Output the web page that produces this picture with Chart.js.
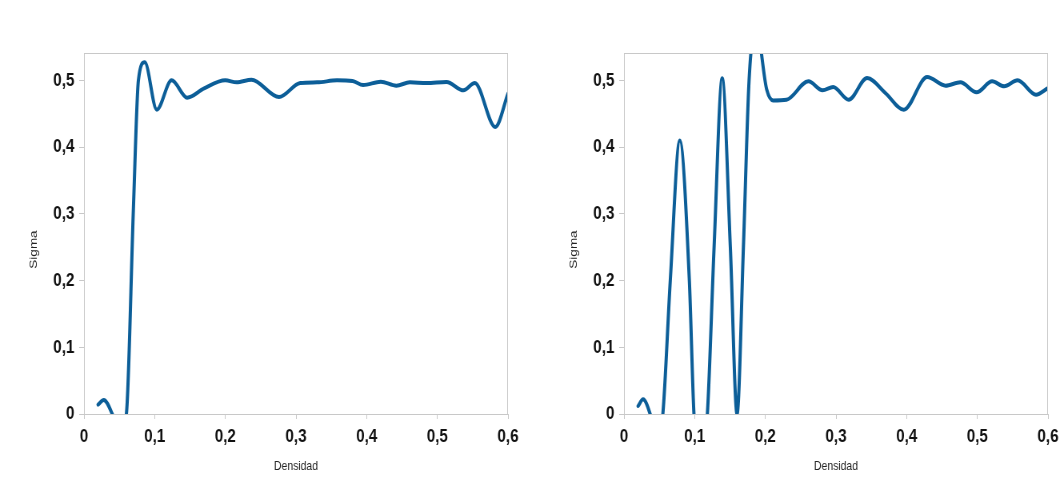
<!DOCTYPE html>
<html lang="es">
<head>
<meta charset="utf-8">
<title>Sigma frente a densidad</title>
<script src="https://cdn.jsdelivr.net/npm/chart.js@4.4.1/dist/chart.umd.min.js"></script>
<style>
    html, body { margin: 0; padding: 0; background: #ffffff; }
    #wrap { position: relative; width: 1060px; height: 485px; overflow: hidden; }
    /* the panels are drawn wide and squeezed horizontally, like the exported figure */
    canvas { position: absolute; top: 0; transform: scaleX(0.8); transform-origin: 0 0; }
    #chartLeft { left: 0; }
    #chartRight { left: 540px; }
</style>
</head>
<body>
<div id="wrap">
    <canvas id="chartLeft" width="650" height="485"></canvas>
    <canvas id="chartRight" width="650" height="485"></canvas>
</div>
<script>
// Data: left run
const densidadIzq = [0.02, 0.028, 0.04, 0.05, 0.06, 0.07, 0.077, 0.086, 0.103, 0.124, 0.146, 0.17, 0.2, 0.216, 0.237, 0.276, 0.306, 0.33, 0.358, 0.38, 0.395, 0.42, 0.442, 0.461, 0.485, 0.513, 0.537, 0.553, 0.582, 0.6];
const sigmaIzq = [0.014, 0.021, 0.0, -0.03, 0.0, 0.31, 0.5, 0.527, 0.456, 0.5, 0.474, 0.488, 0.5, 0.497, 0.501, 0.475, 0.496, 0.497, 0.5, 0.499, 0.493, 0.498, 0.492, 0.497, 0.496, 0.4975, 0.485, 0.496, 0.43, 0.48];

// Data: right run
const densidadDer = [0.02, 0.027, 0.037, 0.046, 0.055, 0.0655, 0.079, 0.0925, 0.099, 0.108, 0.118, 0.1275, 0.139, 0.1505, 0.16, 0.169, 0.177, 0.187, 0.202, 0.211, 0.23, 0.261, 0.281, 0.296, 0.318, 0.344, 0.37, 0.396, 0.429, 0.455, 0.476, 0.499, 0.521, 0.538, 0.557, 0.583, 0.6];
const sigmaDer = [0.012, 0.022, 0.0, -0.04, 0.0, 0.2, 0.41, 0.2, 0.0, -0.08, 0.0, 0.25, 0.503, 0.25, 0.0, 0.25, 0.5, 0.58, 0.486, 0.47, 0.471, 0.4985, 0.485, 0.49, 0.471, 0.5035, 0.481, 0.456, 0.505, 0.492, 0.497, 0.482, 0.4985, 0.491, 0.5, 0.4785, 0.4885];

// Axis ticks and titles
const xTicks = [0, 0.1, 0.2, 0.3, 0.4, 0.5, 0.6];
const yTicks = [0, 0.1, 0.2, 0.3, 0.4, 0.5];
const xTitle = 'Densidad';
const yTitle = 'Sigma';

// Styles (canvas units, before the 0.8 horizontal squeeze)
const LINE_COLOR = '#0c5e98';
const FRAME_COLOR = '#c8c8c8';
const SANS = "'Liberation Sans', Arial, sans-serif";

// Helpers
function commaLabel(value) {
    if (value === 0) return '0';
    return value.toFixed(1).replace('.', ',');
}

function toPoints(xs, ys) {
    return xs.map((x, i) => ({ x: x, y: ys[i] }));
}

// Frame around the plot area plus the two axis titles
const framePlugin = {
    id: 'frameAndTitles',
    afterDraw(chart) {
        const { ctx, chartArea } = chart;
        ctx.save();
        ctx.strokeStyle = FRAME_COLOR;
        ctx.lineWidth = 1;
        ctx.strokeRect(chartArea.left + 0.5, chartArea.top + 0.5,
            chartArea.right - chartArea.left - 1, chartArea.bottom - chartArea.top);

        ctx.fillStyle = '#222222';
        ctx.textAlign = 'center';
        ctx.textBaseline = 'middle';
        ctx.font = '13px ' + SANS;
        ctx.fillText(xTitle, (chartArea.left + chartArea.right) / 2, 466);

        ctx.translate(42, (chartArea.top + chartArea.bottom) / 2 + 16);
        ctx.rotate(-Math.PI / 2);
        ctx.font = '13.5px ' + SANS;
        ctx.fillText(yTitle, 0, 0);
        ctx.restore();
    }
};

function buildChart(canvasId, xs, ys) {
    const ctx = document.getElementById(canvasId).getContext('2d');
    const tickFont = { family: SANS, size: 19, weight: 'bold' };

    return new Chart(ctx, {
        type: 'line',
        data: {
            datasets: [{
                data: toPoints(xs, ys),
                borderColor: LINE_COLOR,
                borderWidth: 4,
                pointRadius: 0,
                fill: false,
                cubicInterpolationMode: 'monotone',
                borderCapStyle: 'round',
                borderJoinStyle: 'round',
                clip: 0
            }]
        },
        options: {
            responsive: false,
            animation: false,
            events: [],
            layout: { padding: { top: 53, right: 15, left: 0, bottom: 0 } },
            plugins: {
                legend: { display: false },
                tooltip: { enabled: false }
            },
            scales: {
                x: {
                    type: 'linear',
                    min: 0,
                    max: 0.6,
                    afterBuildTicks: scale => { scale.ticks = xTicks.map(v => ({ value: v })); },
                    afterFit: scale => {
                        scale.height = 71;
                        scale.paddingLeft = 0;
                        scale.paddingRight = 0;
                    },
                    ticks: {
                        callback: commaLabel,
                        font: tickFont,
                        color: '#111111',
                        padding: 6,
                        maxRotation: 0
                    },
                    grid: { drawOnChartArea: false, tickLength: 5, color: FRAME_COLOR },
                    border: { color: FRAME_COLOR }
                },
                y: {
                    type: 'linear',
                    min: 0,
                    max: 0.541,
                    afterBuildTicks: scale => { scale.ticks = yTicks.map(v => ({ value: v })); },
                    afterFit: scale => {
                        scale.width = 105;
                        scale.paddingTop = 0;
                        scale.paddingBottom = 0;
                    },
                    ticks: {
                        callback: commaLabel,
                        font: tickFont,
                        color: '#111111',
                        padding: 6
                    },
                    grid: { drawOnChartArea: false, tickLength: 6, color: FRAME_COLOR },
                    border: { color: FRAME_COLOR }
                }
            }
        },
        plugins: [framePlugin]
    });
}

// Draw both panels
buildChart('chartLeft', densidadIzq, sigmaIzq);
buildChart('chartRight', densidadDer, sigmaDer);
</script>
</body>
</html>
